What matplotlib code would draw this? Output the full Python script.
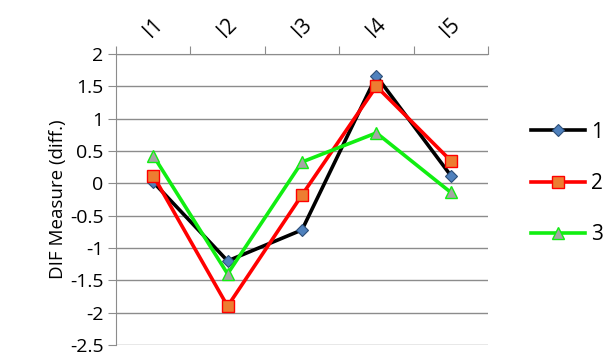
import matplotlib
matplotlib.use('Agg')
import matplotlib.pyplot as plt
import numpy as np

plt.rcParams['font.family'] = ['Open Sans', 'DejaVu Sans']

items = ['I1', 'I2', 'I3', 'I4', 'I5']
s1 = [0.02, -1.2, -0.72, 1.66, 0.12]
s2 = [0.12, -1.9, -0.18, 1.5, 0.35]
s3 = [0.43, -1.4, 0.33, 0.78, -0.14]
yticks = [2, 1.5, 1, 0.5, 0, -0.5, -1, -1.5, -2, -2.5]

fig = plt.figure(figsize=(6.12, 3.58), dpi=100)
ax = fig.add_axes([116/612, 13/358, 372/612, 291/358])
x = np.arange(len(items))

ax.plot(x, s1, color='black', lw=2.6, marker='D', ms=6.5,
        mfc='#4f81bd', mec='#2d4f78', mew=0.8, label='1', zorder=3)
ax.plot(x, s2, color='#ff0000', lw=2.6, marker='s', ms=8,
        mfc='#ed7d31', mec='#ff0000', mew=1.0, label='2', zorder=3)
ax.plot(x, s3, color='#11ee11', lw=2.6, marker='^', ms=9,
        mfc='#a5a5a5', mec='#11ee11', mew=1.0, label='3', zorder=3)

ax.set_xlim(-0.5, 4.5)
ax.set_ylim(-2.5, 2)
ax.set_yticks(yticks)
ax.set_yticklabels([('%g' % v) for v in yticks], fontsize=14)
ax.yaxis.grid(True, color='#8c8c8c', lw=1.0)
ax.set_axisbelow(True)

# category axis sits on top, tick marks between categories
ax.xaxis.tick_top()
ax.set_xticks(np.arange(-0.5, 5, 1))
ax.set_xticklabels([])
ax.set_xticks(x, minor=True)
ax.set_xticklabels(items, minor=True, rotation=45, fontsize=15)
ax.tick_params(axis='x', which='minor', length=0, pad=9)
ax.tick_params(axis='x', which='major', length=6, color='#8c8c8c', direction='out')
ax.tick_params(axis='y', length=6, color='#8c8c8c', pad=3)

for s in ['right', 'bottom']:
    ax.spines[s].set_visible(False)
for s in ['left', 'top']:
    ax.spines[s].set_color('#8c8c8c')

ax.set_ylabel('DIF Measure (diff.)', fontsize=13.5, labelpad=2)

leg = ax.legend(loc='center left', bbox_to_anchor=(1.065, 0.555), frameon=False,
                fontsize=15, handlelength=2.6, labelspacing=1.45, handletextpad=0.3)

plt.savefig('out.png', dpi=100)
